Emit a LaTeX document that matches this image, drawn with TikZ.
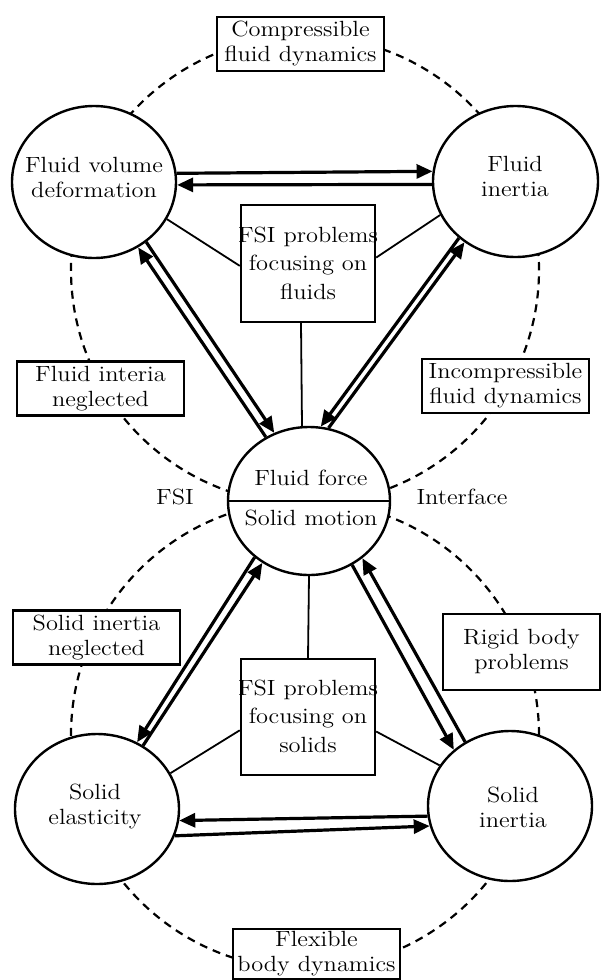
\documentclass[tikz,border=0pt]{standalone}
\usepackage{graphicx}
\usetikzlibrary{shapes.geometric,arrows.meta}
\newcommand{\hx}[1]{\scalebox{1.11}[1]{\begin{tabular}{@{}c@{}}#1\end{tabular}}}
\newcommand{\hs}[1]{\scalebox{1.11}[1]{#1}}
\begin{document}
\begin{tikzpicture}[x=0.5pt,y=-0.5pt,
  ell/.style={draw, ellipse, line width=1.2pt, fill=white, inner sep=0pt},
  lbox/.style={draw, rectangle, line width=1.2pt, fill=white, inner sep=0pt, minimum width=83.5pt, minimum height=27pt, font=\fontsize{11}{12.5}\selectfont},
  fbox/.style={draw, rectangle, line width=1.2pt, fill=white, inner sep=0pt, minimum width=67pt, minimum height=58.5pt},
  txt/.style={inner sep=0pt, font=\fontsize{11}{12.5}\selectfont},
  ftxt/.style={inner sep=0pt, font=\fontsize{11}{14.2}\selectfont},
  dar/.style={line width=1.6pt, -{Triangle[length=8pt,width=7pt]}},
  conn/.style={line width=0.9pt},
  dsh/.style={line width=1.1pt, dash pattern=on 4pt off 3pt}]
\clip (0,0) rectangle (602,980);
\fill[white] (0,0) rectangle (602,980);
% dashed rings
\draw[dsh] (305,270) circle (117pt);
\draw[dsh] (305,735) circle (117pt);
% label boxes
\node[lbox] (comp) at (300.5,44) {\hx{Compressible\\fluid dynamics}};
\node[lbox] (fin) at (100.5,388.5) {\hx{Fluid interia\\neglected}};
\node[lbox] (inc) at (505.5,386) {\hx{Incompressible\\fluid dynamics}};
\node[lbox] (sin) at (96.5,637.5) {\hx{Solid inertia\\neglected}};
\node[lbox, minimum width=78.5pt, minimum height=38pt] (rig) at (521.5,652) {\hx{Rigid body\\problems}};
\node[lbox, minimum height=25pt] (flex) at (316.5,954) {\hx{Flexible\\body dynamics}};
% main ellipses
\node[ell, minimum width=82pt, minimum height=76pt] (fvd) at (94,182) {};
\node[txt] at (94,180) {\hx{Fluid volume\\deformation}};
\node[ell, minimum width=82.5pt, minimum height=75.5pt] (fi) at (515.5,181.5) {};
\node[txt] at (515,179) {\hx{Fluid\\inertia}};
\node[ell, minimum width=81pt, minimum height=74pt] (ctr) at (309,501) {};
\draw[line width=1.2pt] (ctr.west) -- (ctr.east);
\node[txt, anchor=base] at (311,485) {\hs{Fluid force}};
\node[txt, anchor=base] at (311,525) {\hs{Solid motion}};
\node[txt, anchor=base] at (175,504) {\hs{FSI}};
\node[txt, anchor=base] at (462,504) {\hs{Interface}};
\node[ell, minimum width=82pt, minimum height=75pt] (se) at (97,809) {};
\node[txt] at (95,807) {\hx{Solid\\elasticity}};
\node[ell, minimum width=82pt, minimum height=75pt] (si) at (510,806) {};
\node[txt] at (513,810) {\hx{Solid\\inertia}};
% FSI boxes
\node[fbox] (fsif) at (308,263.5) {};
\node[ftxt] at (308,265) {\hx{FSI problems\\focusing on\\fluids}};
\node[fbox, minimum height=58pt] (fsis) at (308,717) {};
\node[ftxt] at (308,718) {\hx{FSI problems\\focusing on\\solids}};
% plain connectors
\draw[conn] (fvd.-27.2) -- (fsif.182);
\draw[conn] (fi.-156.4) -- (fsif.5.5);
\draw[conn] ([xshift=-3.5pt]fsif.south) -- ([xshift=-3.5pt]ctr.north);
\draw[conn] (ctr.south) -- (fsis.north);
\draw[conn] (se.26.3) -- (fsis.191.8);
\draw[conn] (si.150) -- (fsis.-12.6);
% double arrows
\draw[dar] (ctr.124) -- (fvd.-56);
\draw[dar] (fvd.-49.8) -- (ctr.117.5);
\draw[dar] (fi.-135.5) -- (ctr.81.8);
\draw[dar] (ctr.75.8) -- (fi.-130.2);
\draw[dar] (se.54.4) -- (ctr.-127.2);
\draw[dar] (ctr.-134.5) -- (se.59.3);
\draw[dar] (si.125.5) -- (ctr.-47.5);
\draw[dar] (ctr.-56.3) -- (si.135.5);
\draw[dar] (fvd.6.3) -- (fi.173.7);
\draw[dar] (fi.182) -- (fvd.-2);
\draw[dar] (si.-173.7) -- (se.-8.4);
\draw[dar] (se.-19.1) -- (si.-166.1);
\end{tikzpicture}
\end{document}
